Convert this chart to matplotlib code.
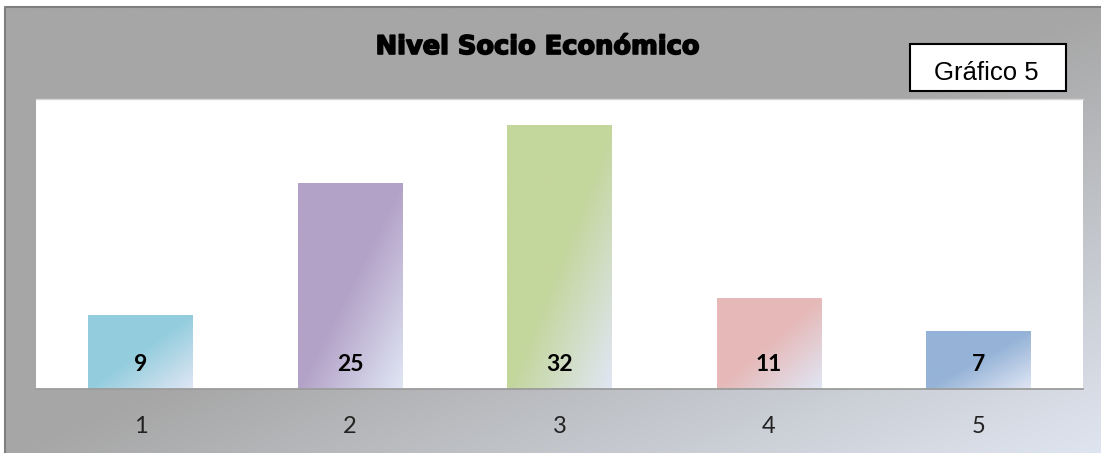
import numpy as np
import matplotlib.pyplot as plt
import matplotlib.patheffects as pe
from matplotlib.colors import to_rgb
from matplotlib.patches import Rectangle

categorias = ['1', '2', '3', '4', '5']
valores = [9, 25, 32, 11, 7]
colores = ['#93cddd', '#b3a2c7', '#c3d69b', '#e6b9b8', '#95b3d7']
titulo = 'Nivel Socio Económico'
etiqueta = 'Gráfico 5'

W, H = 1101, 453


def gradiente(c0, c1, nx, ny, inicio=0.5):
    # degradado diagonal: color sólido arriba-izquierda, claro abajo-derecha
    u = np.linspace(0, 1, nx)[None, :]
    v = np.linspace(0, 1, ny)[:, None]
    t = (u + v) / 2
    t = np.clip((t - inicio) / (1 - inicio), 0, 1)[..., None]
    return (1 - t) * np.array(to_rgb(c0)) + t * np.array(to_rgb(c1))


fig = plt.figure(figsize=(W / 100, H / 100), dpi=100)
fig.patch.set_facecolor('white')

# fondo del gráfico
bg = fig.add_axes([0, 0, 1, 1])
bg.imshow(gradiente('#a6a6a6', '#dfe5f0', 400, 200), extent=(5, W, H, 7),
          aspect='auto', interpolation='bilinear')
bg.plot([5, 5, W], [H, 7, 7], color='#7f7f7f', lw=1.5)
bg.set_xlim(0, W)
bg.set_ylim(H, 0)
bg.axis('off')

bg.text(538, 54, titulo, ha='center', va='baseline', fontsize=18.5,
        fontweight='bold', family='DejaVu Sans', color='black',
        path_effects=[pe.withStroke(linewidth=1.2, foreground='black')])
bg.add_patch(Rectangle((910, 44), 156, 47, facecolor='white',
                       edgecolor='black', lw=1.5))
bg.text(986, 80, etiqueta, ha='center', va='baseline', fontsize=18.5,
        family='Liberation Sans', color='black')

# área de trazado
ax = fig.add_axes([36 / W, (H - 389) / H, (1083 - 36) / W, (389 - 99) / H])
ax.set_facecolor('white')
x = np.arange(1, len(valores) + 1)
bars = ax.bar(x, valores, width=0.5, color=colores, zorder=1)
for b, c in zip(bars, colores):
    x0, w, h = b.get_x(), b.get_width(), b.get_height()
    im = ax.imshow(gradiente(c, '#e0e6f4', 60, 120, inicio=0.5),
                   extent=(x0, x0 + w, 0, h), aspect='auto',
                   interpolation='bilinear', zorder=2)
    im.set_clip_path(b)

for xi, v in zip(x, valores):
    ax.annotate(str(v), (xi, 0), xytext=(0, 13), textcoords='offset points',
                ha='center', va='baseline', fontsize=16.5, fontweight='bold',
                family='Lato', color='black', zorder=3)

ax.set_xlim(0.5, 5.5)
ax.set_ylim(0, 35.2)
ax.set_yticks([])
ax.set_xticks(x, categorias, va='baseline')
ax.tick_params(axis='x', length=0, pad=31.7, labelsize=17,
               labelcolor='#222222')
for lbl in ax.get_xticklabels():
    lbl.set_family('Lato')
for s in ['left', 'right']:
    ax.spines[s].set_visible(False)
ax.spines['bottom'].set_color('#9c9c9c')
ax.spines['bottom'].set_linewidth(1.3)
ax.spines['top'].set_color('#d4d4d4')
ax.spines['top'].set_linewidth(1)

fig.savefig('out.png', dpi=100)
